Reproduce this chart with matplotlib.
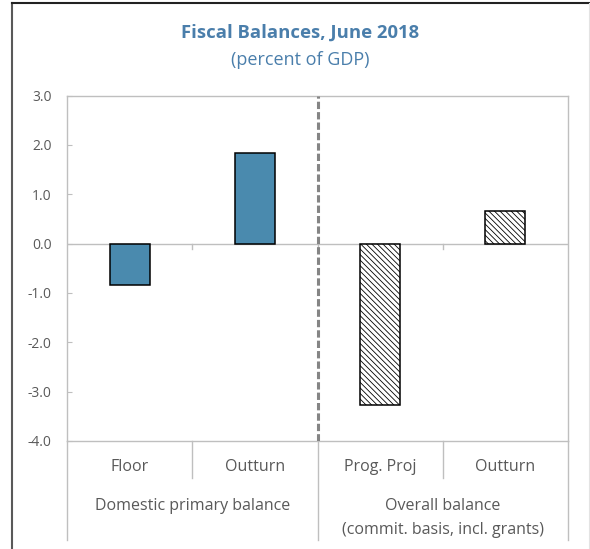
import matplotlib
matplotlib.use("Agg")
import matplotlib.pyplot as plt
from matplotlib.lines import Line2D

plt.rcParams['font.family'] = ['Open Sans', 'DejaVu Sans']

categories = ["Floor", "Outturn", "Prog. Proj", "Outturn"]
group_lines = [["Domestic primary balance"],
               ["Overall balance", "(commit. basis, incl. grants)"]]
values = [-0.83, 1.84, -3.28, 0.67]
yticks = [-4.0, -3.0, -2.0, -1.0, 0.0, 1.0, 2.0, 3.0]

title = "Fiscal Balances, June 2018"
subtitle = "(percent of GDP)"

W, H = 590, 549
fig = plt.figure(figsize=(W / 100, H / 100), dpi=100)
fig.patch.set_facecolor("white")

ax_l, ax_r, ax_t, ax_b = 67, 568, 95.5, 441
ax = fig.add_axes([ax_l / W, 1 - ax_b / H, (ax_r - ax_l) / W, (ax_b - ax_t) / H])

grey = "#BFBFBF"
text_grey = "#595959"
blue = "#4A8AAE"
title_blue = "#4A7EAB"

plt.rcParams['hatch.color'] = "#808080"
plt.rcParams['hatch.linewidth'] = 0.6

x = list(range(len(categories)))
styles = [dict(color=blue, hatch=None), dict(color=blue, hatch=None),
          dict(color="white", hatch="\\" * 6), dict(color="white", hatch="\\" * 6)]
for xi, v, st in zip(x, values, styles):
    ax.bar(xi, v, width=0.32, color=st["color"], hatch=st["hatch"],
           edgecolor="black", linewidth=1.1, zorder=3)

ax.set_xlim(-0.5, len(categories) - 0.5)
ax.set_ylim(yticks[0], yticks[-1])
ax.set_yticks(yticks)
ax.set_yticklabels([f"{t:.1f}" for t in yticks], color=text_grey, fontsize=10)
ax.set_xticks([])
ax.tick_params(axis="y", direction="in", length=3.6, width=0.8, color=grey, pad=11)

for s in ax.spines.values():
    s.set_color(grey)
    s.set_linewidth(1.0)

# zero line with category boundary ticks
ax.axhline(0, color=grey, lw=1.0, zorder=2)
for b in [i + 0.5 for i in x[:-1]]:
    ax.plot([b, b], [0, -0.12], color=grey, lw=1.0, zorder=2)

# divider between the two groups
div = ax.axvline(1.5, color="#858585", lw=2.2, zorder=4)
div.set_dashes((2.4, 1.0))

# multi-level category axis below the plot
def ax_y(px):
    return -(px - ax_b) / (ax_b - ax_t)

trans = ax.get_xaxis_transform()
for b in [-0.5, 1.5, 3.5]:
    ax.add_line(Line2D([b, b], [0, ax_y(540)], transform=trans, color=grey,
                       lw=1.0, clip_on=False))
for b in [0.5, 2.5]:
    ax.add_line(Line2D([b, b], [0, ax_y(478)], transform=trans, color=grey,
                       lw=1.0, clip_on=False))

for xi, c in zip(x, categories):
    ax.text(xi, ax_y(467), c, transform=trans, ha="center", va="center",
            color=text_grey, fontsize=11.5)

for gi, lines in enumerate(group_lines):
    for li, line in enumerate(lines):
        ax.text(gi * 2 + 0.5, ax_y(506 + 24 * li), line, transform=trans,
                ha="center", va="center", color=text_grey, fontsize=11.5)

fig.text(300 / W, 1 - 33 / H, title, ha="center", va="center",
         color=title_blue, fontsize=13.3, fontweight="bold")
fig.text(300 / W, 1 - 60 / H, subtitle, ha="center", va="center",
         color=title_blue, fontsize=13)

# outer frame
fig.add_artist(Line2D([11.5 / W, 11.5 / W], [0, 1 - 3 / H], transform=fig.transFigure,
                      color="#595959", lw=1.5))
fig.add_artist(Line2D([11.5 / W, 1], [1 - 3 / H, 1 - 3 / H], transform=fig.transFigure,
                      color="#222222", lw=1.5))
fig.add_artist(Line2D([588.5 / W, 588.5 / W], [0, 1 - 3 / H], transform=fig.transFigure,
                      color="#E3E3E3", lw=0.8))

fig.savefig("out.png", dpi=100, facecolor="white")
